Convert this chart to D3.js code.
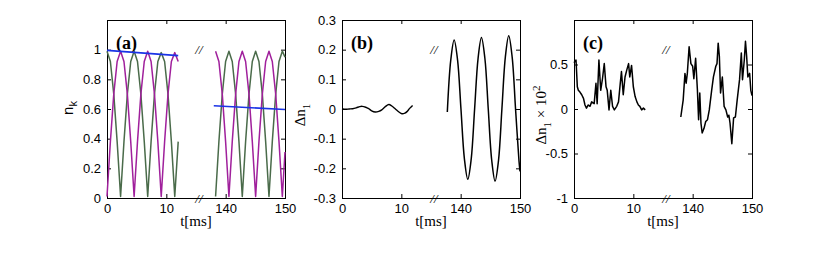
<!DOCTYPE html>
<html><head><meta charset="utf-8">
<script src="https://cdn.jsdelivr.net/npm/d3@7"></script>
<style>body{margin:0;background:#fff}svg{display:block}</style>
</head><body>
<svg id="chart" width="830" height="258"></svg>
<script>
// ---------- data ----------
const xTickValues = [0, 10, 140, 150];
const xBreakDomain = [0, 15, 135, 150];

// panel (a): populations n_k, early window
const tA1 = [0,0.57,1.14,1.71,2.29,2.86,3.43,4.00,4.57,5.14,5.71,6.28,6.86,7.43,8.00,8.57,9.14,9.71,10.28,10.85,11.42,12.0];
const greenA1 = [0.99,0.92,0.70,0.38,0.01,0.38,0.70,0.92,0.99,0.92,0.70,0.38,0.01,0.38,0.70,0.92,0.98,0.92,0.70,0.38,0.01,0.38];
const magentaA1 = [0.01,0.38,0.70,0.92,0.99,0.92,0.70,0.38,0.01,0.38,0.70,0.92,0.99,0.92,0.70,0.38,0.01,0.38,0.70,0.92,0.98,0.92];
// panel (a): late window
const tA2 = [138.30,138.86,139.43,139.99,140.55,141.11,141.68,142.24,142.80,143.36,143.93,144.49,145.05,145.61,146.18,146.74,147.30,147.86,148.43,148.99,149.55,150.0];
const magentaA2 = [0.99,0.92,0.70,0.38,0.01,0.38,0.70,0.92,0.99,0.92,0.70,0.38,0.01,0.38,0.70,0.92,0.99,0.92,0.70,0.38,0.01,0.31];
const greenA2 = [0.01,0.38,0.70,0.92,0.99,0.92,0.70,0.38,0.01,0.38,0.70,0.92,0.99,0.92,0.70,0.38,0.01,0.38,0.70,0.92,0.99,0.95];
// panel (a): blue envelope line
const tBlue1 = [0, 12];
const blue1 = [0.995, 0.96];
const tBlue2 = [138, 150];
const blue2 = [0.622, 0.597];

// panel (b): Δn_1
const tB1 = [0,0.6,1.2,1.8,2.4,3.0,3.4,4.0,4.5,5.0,5.6,6.2,6.7,7.3,7.9,8.4,9.0,9.6,10.1,10.6,11.0,11.4,11.9];
const dB1 = [0.001,-0.001,0.0,0.001,0.004,0.008,0.009,0.006,0.001,-0.006,-0.010,-0.008,-0.003,0.008,0.015,0.010,0.0,-0.010,-0.016,-0.014,-0.008,0.002,0.012];
const tB2 = [137.75,138.33,138.90,139.48,140.05,140.63,141.20,141.78,142.35,142.93,143.50,144.08,144.65,145.23,145.80,146.38,146.95,147.53,148.10,148.68,149.25,149.83,150.0];
const dB2 = [-0.01,0.165,0.233,0.165,0.0,-0.168,-0.237,-0.168,0.0,0.170,0.241,0.171,0.0,-0.172,-0.243,-0.173,0.0,0.175,0.247,0.175,0.0,-0.175,-0.21];

// panel (c): Δn_1 × 10^2
const tC1 = [0,0.34,0.56,0.73,1.0,1.3,1.6,1.85,2.1,2.4,2.7,2.98,3.4,3.7,3.9,4.2,4.5,4.8,5.1,5.4,5.6,5.9,6.2,6.5,6.8,7.2,7.5,7.8,8.0,8.3,8.6,8.9,9.2,9.4,9.7,10.0,10.3,10.6,10.85,11.1,11.4,11.7,12.0];
const dC1 = [0.52,0.55,0.25,0.21,0.19,0.16,0.12,0.045,0.01,0.045,0.03,0.08,0.06,0.29,0.06,0.55,0.21,0.34,0.51,0.25,0.21,-0.01,0.21,0.03,-0.01,0.03,0.08,0.29,0.42,0.16,0.36,0.44,0.51,0.36,0.49,0.25,0.14,0.08,0.045,0.03,-0.01,0.01,-0.01];
const tC2 = [138.0,138.4,138.7,138.9,139.1,139.4,139.7,140.0,140.2,140.5,140.8,141.0,141.2,141.4,141.6,141.9,142.2,142.5,142.8,143.2,143.5,143.9,144.1,144.3,144.5,144.7,145.0,145.3,145.6,145.9,146.1,146.3,146.6,146.9,147.2,147.5,147.9,148.2,148.4,148.7,148.9,149.1,149.3,149.6,149.8,150.0];
const dC2 = [-0.09,0.10,0.40,0.29,0.40,0.70,0.51,0.48,0.34,0.57,0.21,-0.12,0.18,-0.16,-0.27,-0.22,-0.14,-0.12,-0.01,0.21,0.36,0.48,0.51,0.74,0.59,0.18,0.36,0.03,-0.01,-0.09,-0.07,-0.16,-0.39,-0.10,-0.09,0.10,0.33,0.63,0.33,0.55,0.76,0.59,0.36,0.40,0.21,0.15];

const yTicksA = [0, 0.2, 0.4, 0.6, 0.8, 1];
const yTicksB = [-0.3, -0.2, -0.1, 0, 0.1, 0.2, 0.3];
const yTicksC = [-1, -0.5, 0, 0.5];

// ---------- layout ----------
const svg = d3.select("#chart");
const W = 178, H = 178, TOP = 20;
const fmt = d => String(+(+d).toFixed(2));

function makePanel(x0, yDomain, yTicks, label) {
  const g = svg.append("g").attr("transform", `translate(${x0},${TOP})`);
  const x = d3.scaleLinear().domain(xBreakDomain).range([0, W/2, W/2, W]);
  const y = d3.scaleLinear().domain(yDomain).range([H, 0]);
  const tickFont = g => g.selectAll("text").attr("font-family", "Liberation Sans, Arial, sans-serif").attr("font-size", 13).attr("fill", "#000");
  const clean = g => { g.select(".domain").remove(); g.selectAll(".tick line").attr("stroke", "#000"); };
  g.append("g").attr("transform", `translate(0,${H})`)
    .call(d3.axisBottom(x).tickValues(xTickValues).tickFormat(fmt).tickSizeInner(-4).tickSizeOuter(0).tickPadding(6))
    .call(clean).call(tickFont);
  g.append("g")
    .call(d3.axisTop(x).tickValues(xTickValues).tickFormat("").tickSizeInner(-4).tickSizeOuter(0))
    .call(clean);
  g.append("g")
    .call(d3.axisLeft(y).tickValues(yTicks).tickFormat(fmt).tickSizeInner(-4).tickSizeOuter(0).tickPadding(6))
    .call(clean).call(tickFont);
  g.append("g").attr("transform", `translate(${W},0)`)
    .call(d3.axisRight(y).tickValues(yTicks).tickFormat("").tickSizeInner(-4).tickSizeOuter(0))
    .call(clean);
  g.append("rect").attr("x", 0.5).attr("y", 0.5).attr("width", W).attr("height", H)
    .attr("fill", "none").attr("stroke", "#000").attr("stroke-width", 1);
  // x label
  g.append("text").attr("x", W/2).attr("y", H + 28).attr("text-anchor", "middle")
    .attr("font-family", "Liberation Serif, Times New Roman, serif").attr("font-size", 15).text("t[ms]");
  // panel label
  g.append("text").attr("x", 9).attr("y", 29)
    .attr("font-family", "Liberation Serif, Times New Roman, serif").attr("font-weight", "bold").attr("font-size", 18).text(label);
  // break marks
  [34, H + 5].forEach(yy => {
    g.append("text").attr("x", x(15) + 0.5 * (W/30)).attr("y", yy).attr("text-anchor", "middle")
      .attr("font-family", "Liberation Serif, Times New Roman, serif").attr("font-style", "italic").attr("font-size", 13).text("//");
  });
  return {g, x, y};
}

function drawLine(p, ts, vs, color, width, curve) {
  const pts = ts.map((t, i) => [t, vs[i]]);
  p.g.append("path").datum(pts)
    .attr("fill", "none").attr("stroke", color).attr("stroke-width", width).attr("stroke-linejoin", "round")
    .attr("d", d3.line().x(d => p.x(d[0])).y(d => p.y(d[1])).curve(curve || d3.curveLinear));
}

// panel (a)
const pa = makePanel(107, [0, 1.2], yTicksA, "(a)");
drawLine(pa, tA1, greenA1, "#4a6b4a", 1.5);
drawLine(pa, tA1, magentaA1, "#a0209c", 1.5);
drawLine(pa, tA2, greenA2, "#4a6b4a", 1.5);
drawLine(pa, tA2, magentaA2, "#a0209c", 1.5);
drawLine(pa, tBlue1, blue1, "#1a33e6", 1.6);
drawLine(pa, tBlue2, blue2, "#1a33e6", 1.6);
// y label n_k
const la = svg.append("text").attr("transform", "translate(73,108) rotate(-90)").attr("text-anchor", "middle")
  .attr("font-family", "Liberation Sans, Arial, sans-serif").attr("font-size", 15);
la.append("tspan").text("n");
la.append("tspan").attr("dy", 4).attr("font-size", 11).text("k");

// panel (b)
const pb = makePanel(342, [-0.3, 0.3], yTicksB, "(b)");
drawLine(pb, tB1, dB1, "#000", 1.4, d3.curveCatmullRom);
drawLine(pb, tB2, dB2, "#000", 1.5, d3.curveCatmullRom);
const lb = svg.append("text").attr("transform", "translate(305,115) rotate(-90)").attr("text-anchor", "middle")
  .attr("font-family", "Liberation Serif, Times New Roman, serif").attr("font-size", 15);
lb.append("tspan").text("Δn");
lb.append("tspan").attr("dy", 5).attr("font-size", 11).text("1");

// panel (c)
const pc = makePanel(574, [-1, 1], yTicksC, "(c)");
drawLine(pc, tC1, dC1, "#000", 1.5);
drawLine(pc, tC2, dC2, "#000", 1.5);
const lc = svg.append("text").attr("transform", "translate(546,115) rotate(-90)").attr("text-anchor", "middle")
  .attr("font-family", "Liberation Serif, Times New Roman, serif").attr("font-size", 15);
lc.append("tspan").text("Δn");
lc.append("tspan").attr("dy", 5).attr("font-size", 11).text("1");
lc.append("tspan").attr("dy", -5).text(" × 10");
lc.append("tspan").attr("dy", -6).attr("font-size", 11).text("2");
</script>
</body></html>
